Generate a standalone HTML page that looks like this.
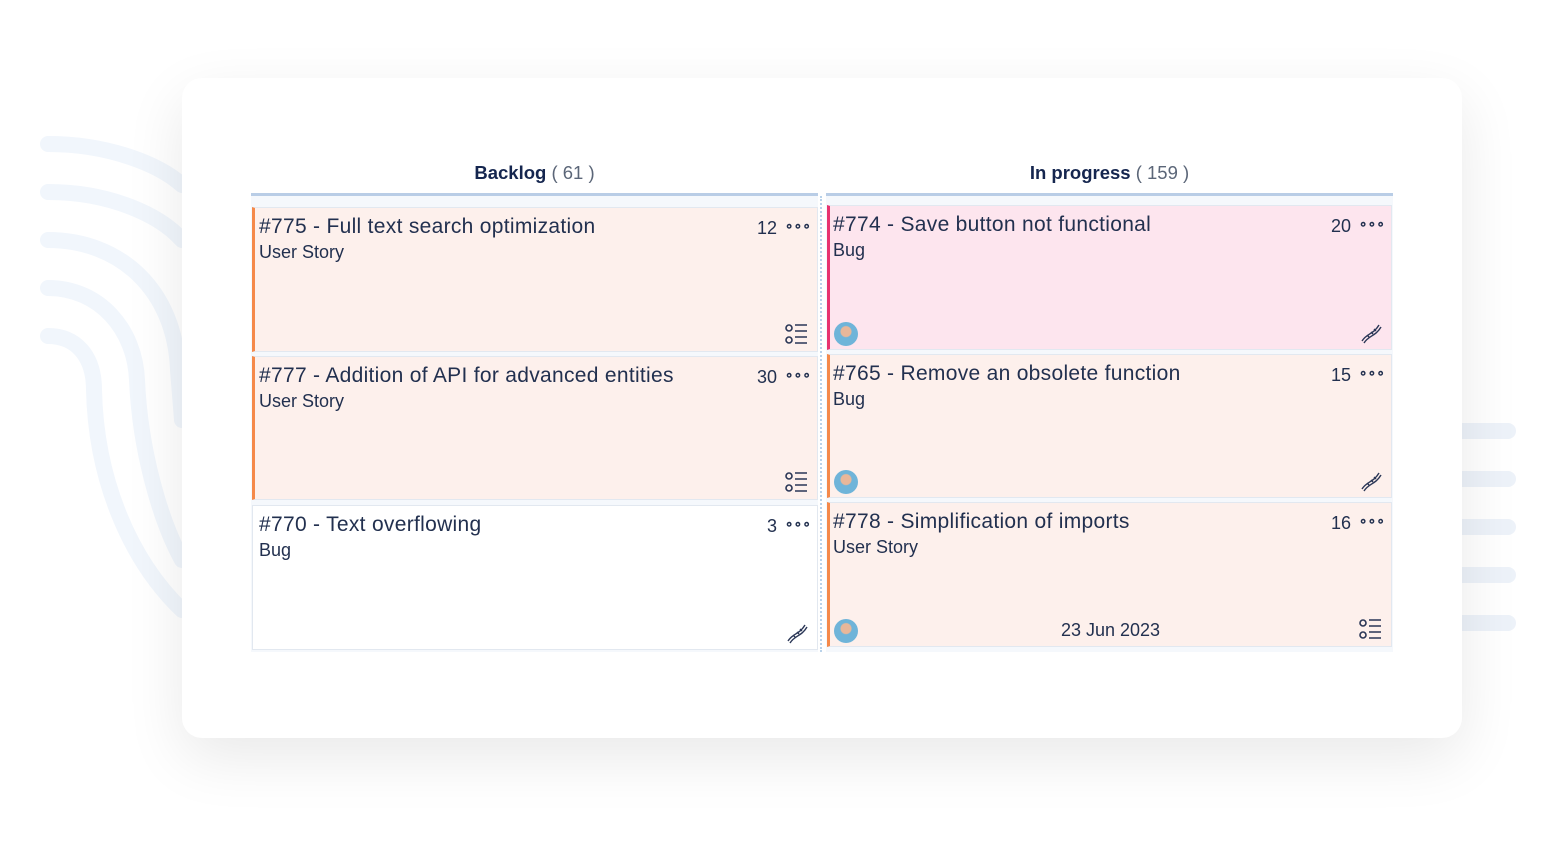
<!DOCTYPE html>
<html><head><meta charset="utf-8"><style>
*{box-sizing:border-box;margin:0;padding:0}
body{width:1542px;height:864px;background:#fff;position:relative;overflow:hidden;font-family:"Liberation Sans",sans-serif;color:#1f2d4d}
.panel{position:absolute;left:182px;top:78px;width:1280px;height:660px;background:#fff;border-radius:20px;box-shadow:0 20px 60px rgba(0,0,0,0.09)}
.hdr{position:absolute;top:162px;font-size:18.5px;text-align:center;color:#1f2d4d}
.hdr b{color:#15264f}
.hdr span{color:#5b6678}
.col{position:absolute;top:193px;height:459px;background:#f5f8fc;border-top:3px solid #b9cde6}
.card{position:absolute;border:1px solid #e2e8f0}
.t{position:absolute;left:4px;top:7px;font-size:21px;letter-spacing:0.3px;color:#22304f;white-space:nowrap}
.s{position:absolute;left:4px;top:34px;font-size:18px;color:#22304f}
.r .t,.r .s{left:3px}
.n{position:absolute;right:40px;top:10px;font-size:18px;color:#22304f}
.d{position:absolute;right:6px;top:9px;font-size:14px;letter-spacing:0px;color:#22304f;font-weight:bold}
.av{position:absolute;left:4px;bottom:3px;width:24px;height:24px;border-radius:50%;background:radial-gradient(circle at 50% 40%,#e8b79a 0 5px,#6fb4d9 6px)}
.ic{position:absolute;right:8px;bottom:4px}
</style></head><body>
<svg style="position:absolute;left:0;top:0" width="1542" height="864">
<g fill="none" stroke="#f1f6fc" stroke-width="16" stroke-linecap="round">
<path d="M48 144 C110 144 160 165 182 185"/>
<path d="M48 192 C110 192 160 215 182 240"/>
<path d="M48 240 C120 240 175 290 178 370 L182 420"/>
<path d="M48 288 C100 288 135 330 137 380 C140 450 160 520 182 560"/>
<path d="M48 336 C75 336 94 355 94 390 C96 480 130 560 182 610"/>
</g>
<g stroke="#edf2f9" stroke-width="16" stroke-linecap="round">
<line x1="1440" y1="431" x2="1508" y2="431"/><line x1="1440" y1="479" x2="1508" y2="479"/>
<line x1="1440" y1="527" x2="1508" y2="527"/><line x1="1440" y1="575" x2="1508" y2="575"/>
<line x1="1440" y1="623" x2="1508" y2="623"/>
</g></svg>
<div class="panel"></div>
<div class="hdr" style="left:251px;width:567px"><b>Backlog</b> <span>( 61 )</span></div>
<div class="hdr" style="left:826px;width:567px"><b>In progress</b> <span>( 159 )</span></div>
<div class="col" style="left:251px;width:567px"></div>
<div class="col" style="left:826px;width:567px"></div>
<div style="position:absolute;left:820px;top:196px;height:456px;border-left:2px dotted #b9d2ea"></div>

<div class="card" style="left:252px;top:207px;width:566px;height:145px;background:#fdf0ec;border-left:3px solid #f5894a">
<div class="t">#775 - Full text search optimization</div><div class="s">User Story</div><div class="n">12</div><div class="d">∘∘∘</div>
<svg class="ic" width="24" height="24"><g stroke="#2a3656" stroke-width="1.6" fill="none"><circle cx="4" cy="5" r="3"/><circle cx="4" cy="17" r="3"/><path d="M10 2h12M10 8h12M10 14h12M10 20h12"/></g></svg></div>
<div class="card" style="left:252px;top:356px;width:566px;height:144px;background:#fdf0ec;border-left:3px solid #f5894a">
<div class="t">#777 - Addition of API for advanced entities</div><div class="s">User Story</div><div class="n">30</div><div class="d">∘∘∘</div>
<svg class="ic" width="24" height="24"><g stroke="#2a3656" stroke-width="1.6" fill="none"><circle cx="4" cy="5" r="3"/><circle cx="4" cy="17" r="3"/><path d="M10 2h12M10 8h12M10 14h12M10 20h12"/></g></svg></div>
<div class="card" style="left:252px;top:505px;width:566px;height:145px;background:#fff">
<div class="t" style="left:6px">#770 - Text overflowing</div><div class="s" style="left:6px">Bug</div><div class="n">3</div><div class="d">∘∘∘</div>
<svg class="ic" width="24" height="24"><g stroke="#2a3656" stroke-width="1.4" fill="none"><path d="M3 20 C8 12 14 14 20 4M5 22 C10 14 16 16 22 6M8 14l2 2M12 11l2 2M15 8l2 2"/></g></svg></div>

<div class="card r" style="left:827px;top:205px;width:565px;height:145px;background:#fde5ee;border-left:3px solid #e8336f">
<div class="t">#774 - Save button not functional</div><div class="s">Bug</div><div class="n">20</div><div class="d">∘∘∘</div><div class="av"></div>
<svg class="ic" width="24" height="24"><g stroke="#2a3656" stroke-width="1.4" fill="none"><path d="M3 20 C8 12 14 14 20 4M5 22 C10 14 16 16 22 6M8 14l2 2M12 11l2 2M15 8l2 2"/></g></svg></div>
<div class="card r" style="left:827px;top:354px;width:565px;height:144px;background:#fdf0ec;border-left:3px solid #f5894a">
<div class="t">#765 - Remove an obsolete function</div><div class="s">Bug</div><div class="n">15</div><div class="d">∘∘∘</div><div class="av"></div>
<svg class="ic" width="24" height="24"><g stroke="#2a3656" stroke-width="1.4" fill="none"><path d="M3 20 C8 12 14 14 20 4M5 22 C10 14 16 16 22 6M8 14l2 2M12 11l2 2M15 8l2 2"/></g></svg></div>
<div class="card r" style="left:827px;top:502px;width:565px;height:145px;background:#fdf0ec;border-left:3px solid #f5894a">
<div class="t">#778 - Simplification of imports</div><div class="s">User Story</div><div class="n">16</div><div class="d">∘∘∘</div><div class="av"></div>
<div style="position:absolute;left:0;right:0;bottom:5px;text-align:center;font-size:18px;color:#22304f">23 Jun 2023</div>
<svg class="ic" width="24" height="24"><g stroke="#2a3656" stroke-width="1.6" fill="none"><circle cx="4" cy="5" r="3"/><circle cx="4" cy="17" r="3"/><path d="M10 2h12M10 8h12M10 14h12M10 20h12"/></g></svg></div>
</body></html>
